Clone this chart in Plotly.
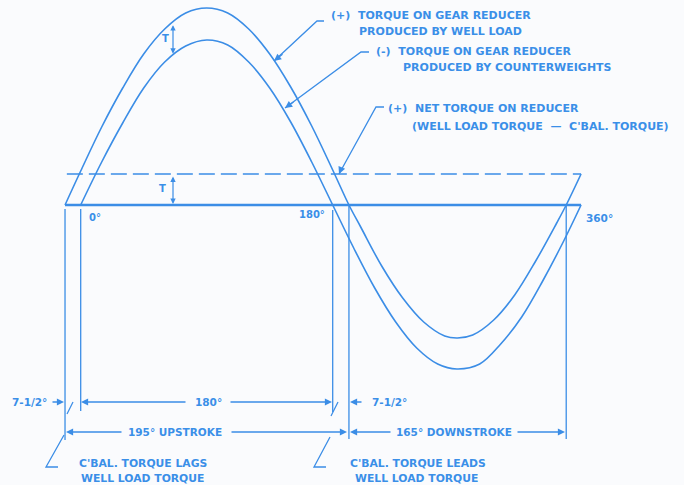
import numpy as np
import plotly.graph_objects as go

BLUE = "#3b8de6"
TXT = "#3a8fe8"
FONT = "DejaVu Sans"

# ---------------- data ----------------
# crank angle in diagram degrees, torque in drawing units (0 = zero-torque line)
wl_angle = [-11.2, 0, 15, 30, 45, 60, 75, 90, 105, 120, 135, 150, 165, 180, 191.6,
            200, 215, 230, 245, 260, 269.2, 280, 295, 310, 325, 340, 346.8, 357.4]
wl_torque = [0, 34, 78, 117, 151, 176, 192, 197, 192, 176, 151, 118, 79, 35, 0,
             -22, -61, -93, -117, -131, -133, -130, -115, -90, -56, -18, 0, 31]

cb_angle = [0, 15, 30, 45, 60, 75, 90, 105, 120, 135, 150, 165, 180,
            195, 210, 225, 240, 255, 268.7, 285, 300, 315, 330, 345, 357.4]
cb_torque = [0, 43, 82, 117, 143, 159, 165, 160, 143, 117, 83, 43, 0,
             -43, -83, -117, -143, -159, -164, -159, -139, -112, -76, -36, 0]

net_torque = 31                  # T
net_span = [-9.9, 357.4]
zero_span = [-11.2, 357.4]

# extension lines: angle, top, bottom
ext_angle = [-11.2, 0, 180, 191.6, 346.8]
ext_top = [-4, -4, -5, 0, 0]
ext_bottom = [-235, -206, -207, -234, -234]

deg_labels = ["0°", "180°", "360°"]

# ---------------- helpers (pixel -> axis units for layout placement) ----------------
def X(px):
    return (px - 80.7) / 1.4

def Y(py):
    return 205 - py

fig = go.Figure()

fig.add_trace(go.Scatter(x=wl_angle, y=wl_torque, mode="lines",
                         line=dict(color=BLUE, width=1.6, shape="spline", smoothing=1.0),
                         hoverinfo="skip"))
fig.add_trace(go.Scatter(x=cb_angle, y=cb_torque, mode="lines",
                         line=dict(color=BLUE, width=1.6, shape="spline", smoothing=1.0),
                         hoverinfo="skip"))
# zero line
fig.add_trace(go.Scatter(x=zero_span, y=[0, 0], mode="lines",
                         line=dict(color=BLUE, width=2.3), hoverinfo="skip"))
# net torque dashed line
fig.add_trace(go.Scatter(x=net_span, y=[net_torque, net_torque], mode="lines",
                         line=dict(color=BLUE, width=1.6, dash="16px,6px"), hoverinfo="skip"))

# extension lines
ex, ey = [], []
for a, t, b in zip(ext_angle, ext_top, ext_bottom):
    ex += [a, a, None]
    ey += [t, b, None]
fig.add_trace(go.Scatter(x=ex, y=ey, mode="lines", line=dict(color=BLUE, width=1.3),
                         hoverinfo="skip"))

# leader lines / break marks (layout geometry)
segs = [
    [(324, 21), (317, 21), (274, 61)],
    [(369, 52), (361, 52), (285, 108)],
    [(384, 107), (376, 107), (339, 174)],
    [(73, 402), (67, 414)],
    [(338, 402), (331, 416)],
    [(64, 435), (46, 467), (58, 467)],
    [(330, 437), (314, 467), (326, 467)],
]
lx, ly = [], []
for s in segs:
    for (px, py) in s:
        lx.append(X(px)); ly.append(Y(py))
    lx.append(None); ly.append(None)
fig.add_trace(go.Scatter(x=lx, y=ly, mode="lines", line=dict(color=BLUE, width=1.3),
                         hoverinfo="skip"))

ann = []

def arrow(x0, y0, x1, y1):
    ann.append(dict(x=X(x1), y=Y(y1), ax=X(x0), ay=Y(y0), xref="x", yref="y",
                    axref="x", ayref="y", text="", showarrow=True,
                    arrowhead=2, arrowsize=1.1, arrowwidth=1.3, arrowcolor=BLUE))

def text(px, py, s, anchor="left", size=10.5):
    ann.append(dict(x=X(px), y=Y(py), xref="x", yref="y", text=s, showarrow=False,
                    xanchor=anchor, yanchor="middle",
                    font=dict(family=FONT, size=size, color=TXT, weight="bold")))

# leader arrowheads on curves
arrow(284, 53, 274, 61)
arrow(295, 101, 285, 108)
arrow(342, 167, 339, 174)

# T markers
tx = X(173)
ann.append(dict(x=tx, y=float(np.interp(tx, cb_angle, cb_torque)) + 2,
                ax=tx, ay=float(np.interp(tx, wl_angle, wl_torque)) - 1,
                xref="x", yref="y", axref="x", ayref="y", text="", showarrow=True,
                arrowhead=2, arrowsize=0.9, arrowwidth=1.2, arrowcolor=BLUE,
                arrowside="end+start"))
ann.append(dict(x=tx, y=1, ax=tx, ay=net_torque - 1,
                xref="x", yref="y", axref="x", ayref="y", text="", showarrow=True,
                arrowhead=2, arrowsize=0.9, arrowwidth=1.2, arrowcolor=BLUE,
                arrowside="end+start"))
text(165, 38, "T", "center", 10)
text(162, 188, "T", "center", 10)

# dimension arrows
arrow(51, 402, 64, 402)
arrow(187, 402, 81, 402)
arrow(229, 402, 332, 402)
arrow(363, 402, 350, 402)
arrow(123, 432, 66, 432)
arrow(230, 432, 347, 432)
arrow(392, 432, 350, 432)
arrow(516, 432, 565, 432)

# degree labels
text(87, 217, deg_labels[0], "left", 10)
text(327, 214, deg_labels[1], "right", 10)
text(584, 218, deg_labels[2], "left", 10.5)

# dimension texts
text(49, 402, "7-1/2°", "right")
text(208, 402, "180°", "center")
text(370, 402, "7-1/2°", "left")
text(175, 432, "195° UPSTROKE", "center")
text(454, 432, "165° DOWNSTROKE", "center")
text(143, 463, "C'BAL. TORQUE LAGS", "center", 10.8)
text(142, 478, "WELL LOAD TORQUE", "center", 10.8)
text(418, 463, "C'BAL. TORQUE LEADS", "center", 10.8)
text(416, 478, "WELL LOAD TORQUE", "center", 10.8)

# callout texts
text(329, 15, "(+)  TORQUE ON GEAR REDUCER", "left", 11)
text(357, 31, "PRODUCED BY WELL LOAD", "left", 11)
text(374, 51, "(-)  TORQUE ON GEAR REDUCER", "left", 11)
text(401, 67, "PRODUCED BY COUNTERWEIGHTS", "left", 11)
text(386, 108, "(+)  NET TORQUE ON REDUCER", "left", 11)
text(410, 126, "(WELL LOAD TORQUE  —  C'BAL. TORQUE)", "left", 11)

fig.update_layout(
    width=684, height=485, autosize=False,
    margin=dict(l=0, r=0, t=0, b=0),
    paper_bgcolor="#fafbfd", plot_bgcolor="#fafbfd",
    showlegend=False,
    xaxis=dict(range=[X(0), X(684)], visible=False, fixedrange=True),
    yaxis=dict(range=[Y(485), Y(0)], visible=False, fixedrange=True),
    annotations=ann,
)

fig.write_html("out.html",
               config={"displayModeBar": False, "staticPlot": True},
               post_script="document.body.style.margin='0';document.body.style.overflow='hidden';")
